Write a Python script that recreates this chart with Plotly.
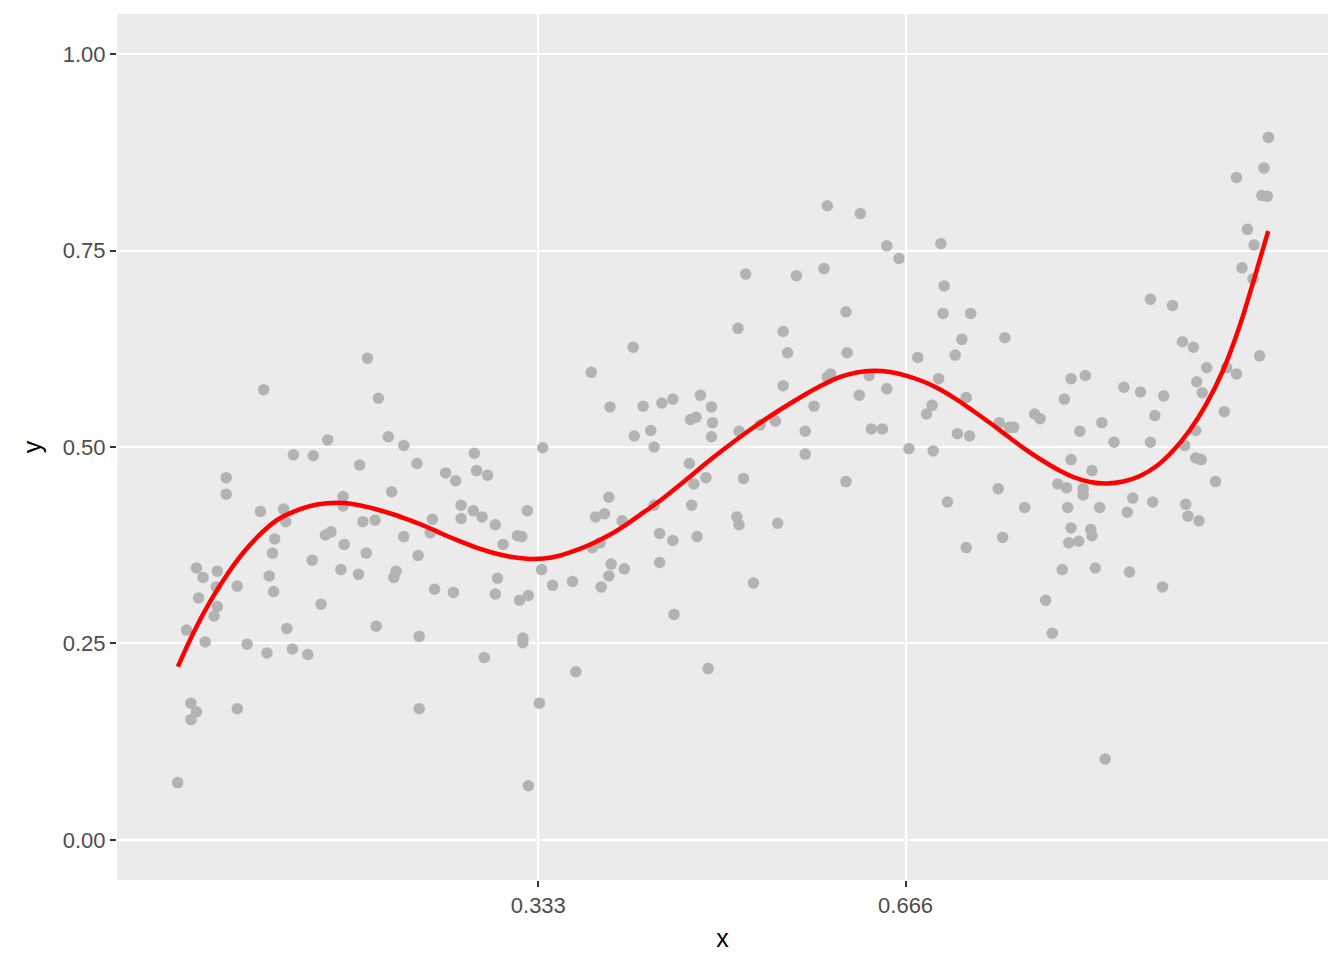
import plotly.graph_objects as go

x_pts = [0.084,0.142,0.111,0.129,0.171,0.050,0.050,0.081,0.102,0.104,0.156,0.156,0.174,0.094,0.140,0.145,0.157,0.092,0.128,0.154,
         0.170,0.023,0.029,0.042,0.041,0.060,0.089,0.093,0.025,0.042,0.039,0.136,0.014,0.031,0.069,0.105,0.087,0.110,0.124,0.018,
         0.023,0.018,0.060,0.006,0.178,0.188,0.197,0.211,0.337,0.275,0.223,0.249,0.258,0.277,0.287,0.200,0.263,0.274,0.282,0.323,
         0.263,0.294,0.185,0.237,0.235,0.211,0.314,0.318,0.301,0.177,0.224,0.204,0.202,0.336,0.296,0.239,0.256,0.294,0.316,0.324,
         0.186,0.225,0.319,0.319,0.284,0.334,0.225,0.324,0.514,0.419,0.381,0.398,0.428,0.445,0.455,0.480,0.490,0.471,0.476,0.491,
         0.515,0.420,0.435,0.438,0.490,0.470,0.474,0.485,0.519,0.397,0.385,0.393,0.409,0.438,0.472,0.513,0.515,0.443,0.455,0.477,
         0.382,0.389,0.346,0.364,0.399,0.397,0.411,0.390,0.443,0.456,0.367,0.487,0.595,0.625,0.649,0.660,0.521,0.567,0.592,0.612,
         0.555,0.559,0.613,0.677,0.555,0.598,0.595,0.633,0.624,0.649,0.583,0.534,0.548,0.575,0.635,0.645,0.575,0.669,0.612,0.550,
         0.528,0.698,0.701,0.700,0.725,0.717,0.756,0.711,0.696,0.816,0.829,0.721,0.810,0.690,0.685,0.783,0.788,0.751,0.760,0.764,
         0.824,0.844,0.713,0.724,0.691,0.816,0.835,0.804,0.812,0.827,0.827,0.750,0.704,0.774,0.813,0.842,0.816,0.834,0.835,0.814,
         0.823,0.721,0.754,0.808,0.838,0.793,0.799,0.888,0.908,0.917,0.927,0.939,0.930,0.935,0.864,0.879,0.900,0.892,0.955,0.855,
         0.888,0.929,0.919,0.929,0.934,0.947,0.872,0.867,0.890,0.920,0.922,0.932,0.869,0.899,0.847,0.995,0.991,0.966,0.989,0.994,
         0.976,0.982,0.971,0.981,0.987,0.957,0.966]
y_pts = [0.573,0.509,0.490,0.489,0.477,0.461,0.440,0.418,0.421,0.405,0.437,0.425,0.405,0.383,0.388,0.392,0.376,0.365,0.356,0.344,
         0.338,0.346,0.334,0.342,0.322,0.323,0.336,0.316,0.308,0.297,0.285,0.300,0.267,0.252,0.249,0.269,0.238,0.243,0.236,0.174,
         0.163,0.153,0.167,0.073,0.613,0.562,0.513,0.502,0.499,0.492,0.479,0.467,0.457,0.470,0.464,0.443,0.426,0.419,0.411,0.419,
         0.409,0.401,0.407,0.408,0.391,0.386,0.387,0.386,0.376,0.365,0.362,0.342,0.334,0.344,0.333,0.319,0.315,0.313,0.305,0.311,
         0.272,0.259,0.257,0.251,0.232,0.174,0.167,0.069,0.651,0.627,0.595,0.551,0.552,0.556,0.561,0.566,0.551,0.535,0.538,0.531,
         0.520,0.514,0.521,0.500,0.513,0.479,0.453,0.461,0.460,0.436,0.411,0.415,0.406,0.426,0.426,0.411,0.401,0.390,0.381,0.386,
         0.372,0.378,0.324,0.329,0.351,0.336,0.345,0.322,0.353,0.287,0.214,0.218,0.807,0.797,0.756,0.740,0.720,0.718,0.727,0.672,
         0.647,0.620,0.620,0.614,0.578,0.593,0.589,0.591,0.566,0.574,0.552,0.528,0.533,0.520,0.523,0.523,0.491,0.498,0.456,0.403,
         0.327,0.759,0.705,0.670,0.670,0.637,0.639,0.617,0.587,0.587,0.591,0.563,0.561,0.553,0.542,0.542,0.536,0.531,0.525,0.525,
         0.520,0.531,0.517,0.514,0.495,0.484,0.470,0.453,0.448,0.447,0.439,0.447,0.430,0.423,0.423,0.423,0.397,0.395,0.387,0.378,
         0.380,0.372,0.385,0.344,0.346,0.305,0.263,0.688,0.680,0.634,0.627,0.601,0.583,0.569,0.576,0.570,0.565,0.540,0.545,0.506,
         0.506,0.521,0.502,0.486,0.484,0.456,0.435,0.417,0.430,0.427,0.412,0.406,0.341,0.322,0.103,0.894,0.855,0.843,0.820,0.819,
         0.777,0.757,0.728,0.714,0.616,0.601,0.593]

curve_x = [0.0062,0.0207,0.0358,0.0509,0.0660,0.0811,0.0962,0.1113,0.1264,0.1415,0.1566,0.1717,0.1868,0.2019,0.2170,0.2321,
           0.2472,0.2623,0.2775,0.2925,0.3076,0.3228,0.3378,0.3529,0.3681,0.3831,0.3982,0.4134,0.4284,0.4435,0.4556,0.4707,
           0.4859,0.5009,0.5160,0.5312,0.5462,0.5613,0.5765,0.5915,0.6067,0.6218,0.6368,0.6520,0.6671,0.6821,0.6973,0.7124,
           0.7274,0.7426,0.7577,0.7727,0.7879,0.8030,0.8180,0.8332,0.8483,0.8634,0.8785,0.8936,0.9087,0.9238,0.9389,0.9540,
           0.9692,0.9812,0.9948]
curve_y = [0.2205,0.2646,0.3041,0.3378,0.3664,0.3893,0.4071,0.4177,0.4249,0.4284,0.4288,0.4256,0.4205,0.4141,0.4065,0.3982,
           0.3887,0.3798,0.3715,0.3651,0.3604,0.3578,0.3581,0.3620,0.3690,0.3779,0.3887,0.4020,0.4167,0.4319,0.4453,0.4625,
           0.4803,0.4968,0.5127,0.5280,0.5420,0.5553,0.5681,0.5795,0.5891,0.5948,0.5969,0.5954,0.5906,0.5833,0.5732,0.5604,
           0.5458,0.5305,0.5146,0.4990,0.4847,0.4720,0.4618,0.4555,0.4536,0.4561,0.4631,0.4758,0.4955,0.5216,0.5553,0.5980,
           0.6552,0.7099,0.7748]

x_tickvals = [0.333, 0.666]
x_ticktext = ["0.333", "0.666"]
y_tickvals = [0.0, 0.25, 0.5, 0.75, 1.0]
y_ticktext = ["0.00", "0.25", "0.50", "0.75", "1.00"]

fig = go.Figure()
fig.add_trace(go.Scatter(x=x_pts, y=y_pts, mode="markers",
                         marker=dict(color="#B3B3B3", size=11.5, line=dict(width=0)),
                         showlegend=False, hoverinfo="x+y"))
fig.add_trace(go.Scatter(x=curve_x, y=curve_y, mode="lines",
                         line=dict(color="#FF0000", width=4.5, shape="spline", smoothing=1),
                         showlegend=False))

axis_common = dict(showgrid=True, gridcolor="#FFFFFF", gridwidth=2, zeroline=False,
                   ticks="outside", ticklen=6, tickwidth=2, tickcolor="#333333",
                   tickfont=dict(family="Liberation Sans, Arial, sans-serif", size=22, color="#4D4D4D"),
                   showline=False)

fig.update_layout(
    width=1336, height=952,
    margin=dict(l=109, r=16, t=6, b=80),
    paper_bgcolor="#FFFFFF", plot_bgcolor="#EBEBEB",
    font=dict(family="Liberation Sans, Arial, sans-serif"),
    xaxis=dict(range=[-0.049, 1.049], tickvals=x_tickvals, ticktext=x_ticktext,
               title=dict(text="x", font=dict(size=25, color="#000000"), standoff=12),
               **axis_common),
    yaxis=dict(range=[-0.051, 1.051], tickvals=y_tickvals, ticktext=y_ticktext,
               title=dict(text="y", font=dict(size=25, color="#000000"), standoff=14),
               **axis_common),
)

fig.write_html("out.html")
